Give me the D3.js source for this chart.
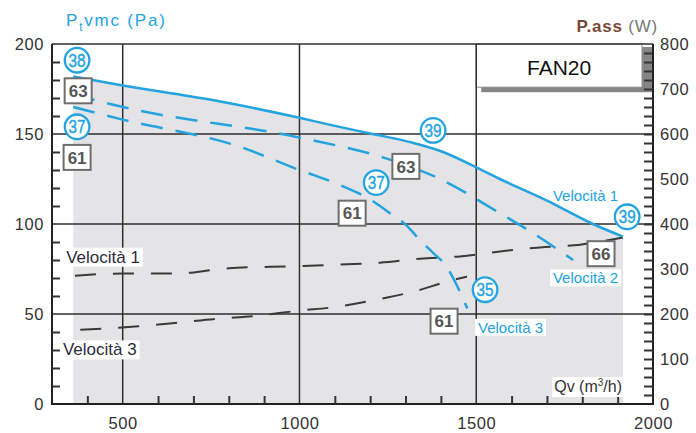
<!DOCTYPE html>
<html><head><meta charset="utf-8">
<script src="https://cdn.jsdelivr.net/npm/d3@7"></script>
<style>
html,body{margin:0;padding:0;background:#fff;}
svg{display:block;font-family:"Liberation Sans",Arial,Helvetica,sans-serif;}
</style></head>
<body>
<svg id="chart" width="696" height="433"></svg>
<script>
// ---- data ----
const qvTicks = [500, 1000, 1500, 2000];
const paTicks = [0, 50, 100, 150, 200];
const wTicks = [0, 100, 200, 300, 400, 500, 600, 700, 800];

// pressure curves (Pa)
const speed1Qv = [360, 500, 750, 1000, 1100, 1200, 1313, 1406, 1500, 1567, 1700, 1830, 1915];
const speed1Pa = [182, 177, 169, 159, 154.5, 150.3, 145.5, 140, 131.5, 125, 113, 100, 93];
const speed2Qv = [360, 500, 1000, 1236, 1398, 1567, 1652, 1774];
const speed2Pa = [172, 165, 148, 137, 125, 106, 96, 80];
const speed3Qv = [360, 500, 830, 1000, 1110, 1205, 1256, 1304, 1341, 1378, 1417, 1445, 1475];
const speed3Pa = [165, 158, 143, 130, 122, 113, 106, 99, 91, 84, 76, 66, 53];

// absorbed power curves (W)
const power1Qv = [365, 501, 654, 756, 823, 993, 1115, 1228, 1341, 1454, 1567, 1681, 1794, 1915];
const power1W = [285, 290, 290, 298, 303, 306, 310, 314, 323, 328, 339, 348, 354, 370];
const power3Qv = [380, 535, 648, 762, 880, 993, 1106, 1219, 1333, 1417, 1474];
const power3W = [165, 172, 180, 189, 196, 207, 216, 232, 252, 272, 283];

// noise / efficiency markers (qv, Pa)
const circleLabels = [
  {t: "38", qv: 371, pa: 191}, {t: "37", qv: 371, pa: 154},
  {t: "39", qv: 1378, pa: 152}, {t: "37", qv: 1217, pa: 123},
  {t: "39", qv: 1927, pa: 104}, {t: "35", qv: 1525, pa: 63.5}
];
const boxLabels = [
  {t: "63", qv: 374, pa: 174}, {t: "61", qv: 371, pa: 137},
  {t: "63", qv: 1301, pa: 132}, {t: "61", qv: 1149, pa: 106},
  {t: "66", qv: 1853, pa: 83.5}, {t: "61", qv: 1409, pa: 46}
];
const seriesLabels = [
  {t: "Velocità 1", qv: 1717, pa: 113, kind: "blue"},
  {t: "Velocità 2", qv: 1717, pa: 67, kind: "blue"},
  {t: "Velocità 3", qv: 1505, pa: 39.5, kind: "blue"},
  {t: "Velocità 1", qv: 340, pa: 78.5, kind: "dark"},
  {t: "Velocità 3", qv: 331, pa: 27, kind: "dark"}
];
const modelName = "FAN20";

// ---- drawing ----
const BLUE = "#23a3df", GRID = "#2e2e2e", FILL = "#e4e4e6";
const svg = d3.select("#chart");
const x = d3.scaleLinear().domain([300, 2000]).range([52, 653]);
const yL = d3.scaleLinear().domain([0, 200]).range([404, 44]);
const yR = d3.scaleLinear().domain([0, 800]).range([404, 44]);

const zip = (a, b) => a.map((v, i) => [v, b[i]]);
const lineL = d3.line().x(d => x(d[0])).y(d => yL(d[1])).curve(d3.curveMonotoneX);
const lineR = d3.line().x(d => x(d[0])).y(d => yR(d[1])).curve(d3.curveMonotoneX);
const areaL = d3.area().x(d => x(d[0])).y0(yL(0)).y1(d => yL(d[1])).curve(d3.curveMonotoneX);

// grey operating field under speed 1
svg.append("path").datum(zip(speed1Qv, speed1Pa)).attr("d", areaL).attr("fill", FILL);

// FAN20 box with shadow
const bx0 = x(1500), bx1 = x(1969), by0 = yL(200), by1 = yL(176);
svg.append("rect").attr("x", bx0 + 5).attr("y", by0 + 3).attr("width", x(2000) - bx0 - 5).attr("height", by1 - by0 + 2).attr("fill", "#858585");
svg.append("rect").attr("x", bx0).attr("y", by0).attr("width", bx1 - bx0).attr("height", by1 - by0).attr("fill", "#fff").attr("stroke", "#8a8a8a").attr("stroke-width", 1);
svg.append("text").attr("x", (bx0 + bx1) / 2).attr("y", by0 + 31).attr("text-anchor", "middle").attr("font-size", 21).attr("fill", "#111").text(modelName);

// grid
const grid = svg.append("g").attr("stroke", GRID).attr("stroke-width", 1.5);
grid.selectAll("line.h").data([50, 100, 150, 200]).join("line")
  .attr("x1", x(300)).attr("x2", x(2000)).attr("y1", d => yL(d)).attr("y2", d => yL(d));
grid.selectAll("line.v").data([500, 1000, 1500]).join("line")
  .attr("x1", d => x(d)).attr("x2", d => x(d)).attr("y1", yL(0)).attr("y2", yL(200));

// axes frame
const frame = svg.append("g").attr("stroke", "#222").attr("stroke-width", 2);
frame.append("line").attr("x1", x(300)).attr("x2", x(300)).attr("y1", yL(0)).attr("y2", yL(200));
frame.append("line").attr("x1", x(2000)).attr("x2", x(2000)).attr("y1", yL(0)).attr("y2", yL(200));
frame.append("line").attr("x1", x(300) - 1).attr("x2", x(2000) + 1).attr("y1", yL(0)).attr("y2", yL(0));

// minor ticks
const minorPa = d3.range(10, 200, 10).filter(v => v % 50 !== 0);
const gMinL = svg.append("g").attr("transform", `translate(${x(300)},0)`)
  .call(d3.axisLeft(yL).tickValues(minorPa).tickSizeInner(-8).tickSizeOuter(0).tickFormat(""));
const minorQv = d3.range(400, 2000, 100).filter(v => v % 500 !== 0);
const gMinB = svg.append("g").attr("transform", `translate(0,${yL(0)})`)
  .call(d3.axisBottom(x).tickValues(minorQv).tickSizeInner(-8).tickSizeOuter(0).tickFormat(""));
const minorW = d3.range(20, 800, 20);
const gMinR = svg.append("g").attr("transform", `translate(${x(2000)},0)`)
  .call(d3.axisRight(yR).tickValues(minorW).tickSizeInner(-9).tickSizeOuter(0).tickFormat(""));
[gMinL, gMinB, gMinR].forEach(g => {
  g.select(".domain").remove();
  g.selectAll(".tick line").attr("stroke", "#333").attr("stroke-width", 2);
});

// tick labels
const fmt = d3.format("d");
const gL = svg.append("g").attr("transform", `translate(${x(300)},0)`)
  .call(d3.axisLeft(yL).tickValues(paTicks).tickFormat(fmt).tickSize(0).tickPadding(8));
const gR = svg.append("g").attr("transform", `translate(${x(2000)},0)`)
  .call(d3.axisRight(yR).tickValues(wTicks).tickFormat(fmt).tickSize(0).tickPadding(7));
const gB = svg.append("g").attr("transform", `translate(0,${yL(0)})`)
  .call(d3.axisBottom(x).tickValues(qvTicks).tickFormat(fmt).tickSize(0).tickPadding(13));
[gL, gR, gB].forEach(g => {
  g.select(".domain").remove();
  g.selectAll("text").attr("font-size", 16.5).attr("letter-spacing", 0.6).attr("fill", "#333")
    .attr("font-family", "Liberation Sans, Arial, sans-serif");
});

// power curves (black dashed)
svg.append("path").datum(zip(power1Qv, power1W)).attr("d", lineR)
  .attr("fill", "none").attr("stroke", "#3a3a3a").attr("stroke-width", 2).attr("stroke-dasharray", "21,17");
svg.append("path").datum(zip(power3Qv, power3W)).attr("d", lineR)
  .attr("fill", "none").attr("stroke", "#3a3a3a").attr("stroke-width", 2).attr("stroke-dasharray", "21,17");

// pressure curves
svg.append("path").datum(zip(speed1Qv, speed1Pa)).attr("d", lineL)
  .attr("fill", "none").attr("stroke", BLUE).attr("stroke-width", 2.5);
svg.append("path").datum(zip(speed2Qv, speed2Pa)).attr("d", lineL)
  .attr("fill", "none").attr("stroke", BLUE).attr("stroke-width", 2.5).attr("stroke-dasharray", "22,13");
svg.append("path").datum(zip(speed3Qv, speed3Pa)).attr("d", lineL)
  .attr("fill", "none").attr("stroke", BLUE).attr("stroke-width", 2.5).attr("stroke-dasharray", "22,13");

// series labels with white backing
seriesLabels.forEach(s => {
  const fs = s.kind === "blue" ? 15 : 17;
  const g = svg.append("g");
  const t = g.append("text").attr("x", x(s.qv)).attr("y", yL(s.pa))
    .attr("font-size", fs).attr("fill", s.kind === "blue" ? BLUE : "#2c2c3c").text(s.t);
  const bb = t.node().getBBox();
  if (!(s.kind === "blue" && s.t.endsWith("1")))
    g.insert("rect", "text").attr("x", bb.x - 3).attr("y", bb.y).attr("width", bb.width + 6).attr("height", bb.height).attr("fill", "#fff");
});

// Qv axis title
const qg = svg.append("g");
const qt = qg.append("text").attr("x", x(2000) - 31).attr("y", yL(0) - 12).attr("text-anchor", "end")
  .attr("font-size", 16).attr("fill", "#333");
qt.append("tspan").text("Qv (m");
qt.append("tspan").attr("font-size", 10).attr("dy", -6).text("3");
qt.append("tspan").attr("dy", 6).text("/h)");
const qbb = qt.node().getBBox();
qg.insert("rect", "text").attr("x", qbb.x - 2).attr("y", qbb.y).attr("width", qbb.width + 4).attr("height", qbb.height + 2).attr("fill", "#fff");

// circles
const cg = svg.selectAll("g.circ").data(circleLabels).join("g")
  .attr("transform", d => `translate(${x(d.qv)},${yL(d.pa)})`);
cg.append("circle").attr("r", 12.3).attr("fill", "#fff").attr("stroke", BLUE).attr("stroke-width", 2.3);
cg.append("text").attr("text-anchor", "middle").attr("dy", "0.36em").attr("font-size", 18)
  .attr("textLength", 17).attr("lengthAdjust", "spacingAndGlyphs").attr("fill", BLUE)
  .attr("stroke", BLUE).attr("stroke-width", 0.4).text(d => d.t);

// boxes
const bg = svg.selectAll("g.box").data(boxLabels).join("g")
  .attr("transform", d => `translate(${x(d.qv)},${yL(d.pa)})`);
bg.append("rect").attr("x", -13.5).attr("y", -12.5).attr("width", 27).attr("height", 25)
  .attr("fill", "#fff").attr("stroke", "#6e6e6e").attr("stroke-width", 2);
bg.append("text").attr("text-anchor", "middle").attr("dy", "0.36em").attr("font-size", 17)
  .attr("font-weight", "bold").attr("fill", "#555").text(d => d.t);

// axis titles
const lt = svg.append("text").attr("x", 66).attr("y", 26).attr("font-size", 17)
  .attr("letter-spacing", 1.8).attr("fill", BLUE);
lt.append("tspan").text("P");
lt.append("tspan").attr("font-size", 12).attr("dy", 5).text("t");
lt.append("tspan").attr("dy", -5).text("vmc (Pa)");
const rt = svg.append("text").attr("x", 658).attr("y", 32).attr("text-anchor", "end")
  .attr("font-size", 17).attr("font-weight", "bold").attr("letter-spacing", 0.8);
rt.append("tspan").attr("fill", "#7a4a38").text("P.ass ");
rt.append("tspan").attr("fill", "#777").attr("font-weight", "normal").text("(W)");
</script>
</body></html>
